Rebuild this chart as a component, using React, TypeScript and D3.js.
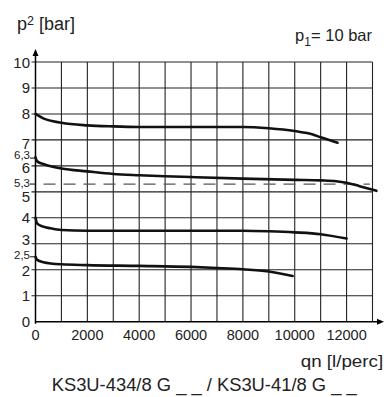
import React from "react";
import * as d3 from "d3";

// ---- data ----
const xTicks = [0, 2000, 4000, 6000, 8000, 10000, 12000];
const yTicks = [0, 1, 2, 3, 4, 5, 6, 7, 8, 9, 10];
const yMinorTicks = [2.5, 5.3, 6.3];
const yMinorLabels = ["2,5", "5,3", "6,3"];
const dashedLevel = 5.3;
const dashedEnd = 12900;

const flowA = [0, 300, 1000, 2000, 3000, 4000, 6000, 8000, 9000, 10000, 10700, 11000, 11650];
const presA = [8.0, 7.83, 7.66, 7.56, 7.52, 7.5, 7.5, 7.5, 7.45, 7.34, 7.21, 7.1, 6.89];

const flowB = [0, 60, 300, 1000, 2000, 3000, 4000, 5000, 6000, 8000, 10000, 11000, 11600, 12000, 12500, 13150];
const presB = [6.33, 6.18, 6.07, 5.9, 5.79, 5.69, 5.64, 5.6, 5.57, 5.51, 5.46, 5.44, 5.41, 5.35, 5.22, 5.04];

const flowC = [0, 60, 300, 560, 1000, 2000, 4000, 8000, 9000, 10000, 11000, 12000];
const presC = [4.0, 3.79, 3.66, 3.6, 3.53, 3.5, 3.5, 3.5, 3.48, 3.44, 3.37, 3.2];

const flowD = [0, 60, 300, 1000, 2000, 4000, 6000, 7000, 8000, 9000, 9920];
const presD = [2.5, 2.38, 2.29, 2.21, 2.18, 2.15, 2.11, 2.07, 2.02, 1.93, 1.76];

const series = [
  { flow: flowA, pres: presA },
  { flow: flowB, pres: presB },
  { flow: flowC, pres: presC },
  { flow: flowD, pres: presD },
];

const yLabelShift: Record<number, number> = {
  10: 0.8, 9: 0, 8: -0.8, 7: 4, 6: 2, 5: 5, 4: 0, 3: -4.6, 2: 0.5, 1: 0, 0: 0,
};
const yMinorShift: Record<number, number> = { 2.5: -1.8, 5.3: -1, 6.3: -2.6 };

const FONT = "'Liberation Sans', Arial, Helvetica, sans-serif";

export default function App() {
  const W = 384;
  const H = 397;
  const x = d3.scaleLinear().domain([0, 13000]).range([35.5, 372.5]);
  const y = d3.scaleLinear().domain([0, 10]).range([321.7, 62]);

  const gridX = d3.range(1000, 13001, 1000);
  const gridY = d3.range(1, 11, 1);

  const line = d3
    .line<[number, number]>()
    .x((d) => x(d[0]))
    .y((d) => y(d[1]))
    .curve(d3.curveMonotoneX);

  const x0 = x(0);
  const y0 = y(0);

  return (
    <svg
      width={W}
      height={H}
      style={{ position: "absolute", left: 0, top: 0, background: "#fff" }}
      fontFamily={FONT}
    >
      <rect x={0} y={0} width={W} height={H} fill="#fff" />
      {/* grid */}
      {gridX.map((v) => (
        <line key={"gx" + v} x1={x(v)} x2={x(v)} y1={y(10)} y2={y0} stroke="#222" strokeWidth={1.1} />
      ))}
      {gridY.map((v) => (
        <line key={"gy" + v} x1={x0 - 4} x2={x(13000)} y1={y(v)} y2={y(v)} stroke="#222" strokeWidth={1.1} />
      ))}
      {yMinorTicks.map((v) => (
        <line key={"mt" + v} x1={x0 - 5.5} x2={x0} y1={y(v)} y2={y(v)} stroke="#222" strokeWidth={1.1} />
      ))}
      {/* dashed 5.3 line */}
      <line
        x1={x0}
        x2={x(dashedEnd)}
        y1={y(dashedLevel)}
        y2={y(dashedLevel)}
        stroke="#555"
        strokeWidth={1.3}
        strokeDasharray="12 8"
        strokeDashoffset={12}
      />
      {/* axes */}
      <line x1={x0} x2={x0} y1={y0 + 2} y2={52} stroke="#000" strokeWidth={1.5} />
      <path d={`M${x0},49 L${x0 - 3},56 L${x0 + 3},56 Z`} fill="#000" />
      <line x1={x0} x2={381} y1={y0} y2={y0} stroke="#000" strokeWidth={1.5} />
      <path d={`M384,${y0} L377,${y0 - 3} L377,${y0 + 3} Z`} fill="#000" />

      {/* curves */}
      {series.map((s, i) => (
        <path
          key={"c" + i}
          d={line(s.flow.map((f, j) => [f, s.pres[j]] as [number, number])) || ""}
          fill="none"
          stroke="#111"
          strokeWidth={2.6}
          strokeLinecap="round"
        />
      ))}

      {/* y tick labels */}
      {yTicks.map((v) => (
        <text
          key={"yl" + v}
          x={30}
          y={y(v) + (yLabelShift[v] || 0)}
          textAnchor="end"
          dominantBaseline="central"
          fontSize={15}
          fill="#222"
        >
          {v}
        </text>
      ))}
      {yMinorTicks.map((v, i) => (
        <text
          key={"ym" + v}
          x={30}
          y={y(v) + (yMinorShift[v] || 0)}
          textAnchor="end"
          dominantBaseline="central"
          fontSize={11.5}
          fill="#222"
        >
          {yMinorLabels[i]}
        </text>
      ))}
      {/* x tick labels */}
      {xTicks.map((v) => (
        <text
          key={"xl" + v}
          x={x(v)}
          y={334.5}
          textAnchor="middle"
          dominantBaseline="central"
          fontSize={14.5}
          fill="#222"
        >
          {v}
        </text>
      ))}

      {/* titles */}
      <text x={17} y={30} fontSize={18} fill="#222">
        p<tspan fontSize={12.5} dy={-5}>2</tspan>
        <tspan dy={5}> [bar]</tspan>
      </text>
      <text x={372} y={41} fontSize={16.5} fill="#222" textAnchor="end">
        p<tspan fontSize={12} dy={5}>1</tspan>
        <tspan dy={-5}>= 10 bar</tspan>
      </text>
      <text x={300.7} y={367} fontSize={17} fill="#222" textLength={82.5} lengthAdjust="spacingAndGlyphs">
        qn [l/perc]
      </text>
      <text x={51.7} y={391} fontSize={17.5} fill="#222" textLength={305} lengthAdjust="spacingAndGlyphs">
        KS3U-434/8 G _ _ / KS3U-41/8 G _ _
      </text>
    </svg>
  );
}
